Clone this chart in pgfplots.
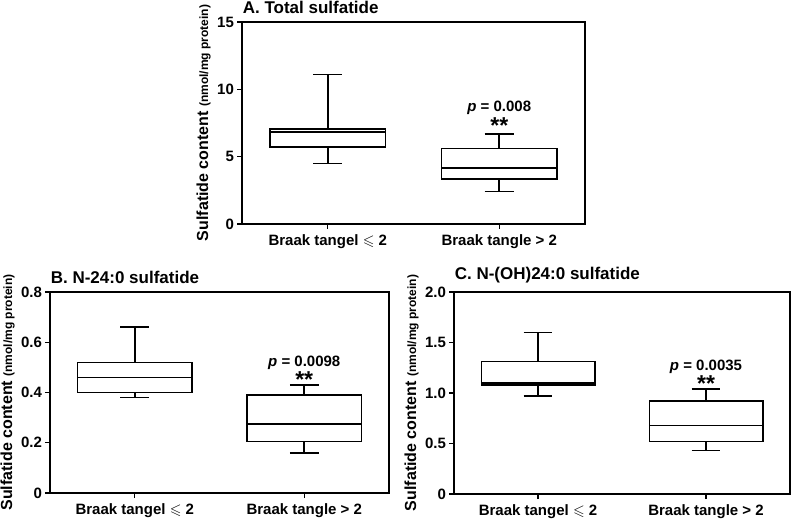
\documentclass[border=0pt]{standalone}
\usepackage{amssymb}
\usepackage{fontspec}
\setmainfont{Liberation Sans}
\usepackage{pgfplots}
\pgfplotsset{compat=1.18}
\usepgfplotslibrary{statistics}

\pgfplotsset{
  panel/.style={
    scale only axis,
    line width=1.6pt,
    xmin=0.5, xmax=2.5,
    xtick={1,2},
    xticklabels={Braak tangel $\leqslant$ 2, Braak tangle > 2},
    ymin=0,
    tick style={line width=1.4pt, black},
    major tick length=5pt,
    tick align=outside,
    xtick pos=bottom, ytick pos=left,
    /pgf/number format/assume math mode=true,
    tick label style={font=\fontsize{15}{17}\selectfont\bfseries},
    yticklabel style={xshift=1pt},
    xticklabel style={yshift=-1pt},
    ylabel={\fontsize{16}{18}\selectfont\bfseries Sulfatide content {\fontsize{12}{14}\selectfont(nmol/mg protein)}},
    ylabel style={yshift=-1pt},
    title style={font=\fontsize{17}{19}\selectfont\bfseries, anchor=south west, at={(rel axis cs:0,1)}, inner sep=2pt, xshift=-2pt},
    clip=false,
    boxplot/draw direction=y,
    boxplot/box extend=0.675,
    boxplot/whisker extend=0.17,
    boxplot/every box/.style={line width=1.6pt},
    boxplot/every whisker/.style={line width=1.6pt},
    boxplot/every median/.style={line width=1.6pt},
  },
  bx/.style={black, line width=1.6pt, solid, mark=none},
}
\newcommand{\pval}[3]{%
  \node[font=\fontsize{15}{17}\selectfont\bfseries, inner sep=0pt] at (axis cs:2,#2) {\textit{p} = #1};
  \node[font=\fontsize{23}{25}\selectfont\bfseries, anchor=base, inner sep=0pt] at (axis cs:2,#3) {**};
}

\begin{document}
\begin{tikzpicture}
\path[use as bounding box] (0,0) rectangle (800pt,522pt);

% A. Total sulfatide
\begin{axis}[panel, at={(242pt,298pt)}, anchor=south west,
  width=343pt, height=202pt,
  ymax=15, ytick={0,5,10,15},
  title={A. Total sulfatide}]
\addplot[bx, boxplot prepared={draw position=1,
  lower whisker=4.5, lower quartile=5.7, median=6.85, upper quartile=7.05, upper whisker=11.1}]
  coordinates {};
\addplot[bx, boxplot prepared={draw position=2,
  lower whisker=2.4, lower quartile=3.35, median=4.15, upper quartile=5.6, upper whisker=6.7}]
  coordinates {};
\pval{0.008}{8.65}{6.7}
\end{axis}

% B. N-24:0 sulfatide
\begin{axis}[panel, at={(50pt,29pt)}, anchor=south west,
  width=339pt, height=201pt,
  ymax=0.8, ytick={0,0.2,0.4,0.6,0.8},
  yticklabels={0,0.2,0.4,0.6,0.8},
  title={B. N-24:0 sulfatide}]
\addplot[bx, boxplot prepared={draw position=1,
  lower whisker=0.38, lower quartile=0.40, median=0.46, upper quartile=0.52, upper whisker=0.66}]
  coordinates {};
\addplot[bx, boxplot prepared={draw position=2,
  lower whisker=0.16, lower quartile=0.205, median=0.275, upper quartile=0.39, upper whisker=0.43}]
  coordinates {};
\pval{0.0098}{0.52}{0.42}
\end{axis}

% C. N-(OH)24:0 sulfatide
\begin{axis}[panel, at={(454pt,28pt)}, anchor=south west,
  width=336pt, height=202pt,
  ymax=2, ytick={0,0.5,1,1.5,2},
  yticklabels={0,0.5,1.0,1.5,2.0},
  title={C. N-(OH)24:0 sulfatide}]
\addplot[bx, boxplot prepared={draw position=1,
  lower whisker=0.97, lower quartile=1.08, median=1.10, upper quartile=1.31, upper whisker=1.6}]
  coordinates {};
\addplot[bx, boxplot prepared={draw position=2,
  lower whisker=0.43, lower quartile=0.52, median=0.68, upper quartile=0.92, upper whisker=1.04}]
  coordinates {};
\pval{0.0035}{1.26}{1.015}
\end{axis}
\end{tikzpicture}
\end{document}
